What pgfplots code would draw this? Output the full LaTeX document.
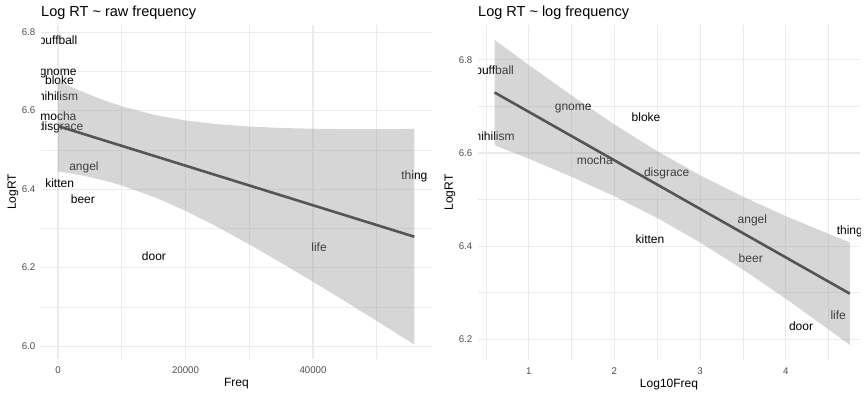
\documentclass[border=0pt]{standalone}
\usepackage{fontspec}
\setmainfont{Liberation Sans}
\usepackage{pgfplots}
\pgfplotsset{compat=1.18}
\usepackage{pgfplotstable}

\definecolor{grey92}{HTML}{EBEBEB}
\definecolor{grey30}{HTML}{4D4D4D}
\definecolor{fitline}{HTML}{555555}
\definecolor{bandfill}{HTML}{999999}

% word, raw frequency, log10 frequency, log reaction time
\pgfplotstableread{
word freq logfreq logrt
puffball 4 0.602 6.776
nihilism 4 0.602 6.636
gnome 33 1.519 6.695
mocha 59 1.771 6.585
bloke 234 2.369 6.677
kitten 260 2.415 6.414
disgrace 407 2.610 6.557
beer 3900 3.591 6.374
angel 4070 3.610 6.455
door 15050 4.178 6.228
life 40950 4.612 6.252
thing 55900 4.747 6.432
}\words

\pgfplotsset{
  ggpanel/.style={
    scale only axis,
    axis line style={draw=none},
    major tick length=0pt, minor tick length=0pt,
    grid=both,
    major grid style={draw=grey92, line width=1.1pt},
    minor grid style={draw=grey92, line width=0.55pt},
    tick label style={font=\fontsize{9.7}{11}\selectfont, text=grey30},
    /pgf/number format/assume math mode=true,
    scaled x ticks=false, scaled y ticks=false,
    xticklabel style={anchor=north, inner sep=0pt, yshift=-8pt},
    yticklabel style={anchor=east, inner sep=0pt, xshift=-5.5pt},
    xlabel style={at={(axis description cs:0.5,0)}, anchor=north, inner sep=0pt, yshift=-19pt, font=\fontsize{12}{14}\selectfont},
    ylabel style={at={([xshift=-28pt]axis description cs:0,0.5)}, anchor=center, inner sep=0pt, font=\fontsize{12}{14}\selectfont},
    title style={at={(axis description cs:0,1)}, anchor=base west, inner sep=0pt, yshift=2.5pt, font=\fontsize{14.5}{16}\selectfont},
    clip marker paths=true,
  },
  wordlabels/.style={
    draw=none, mark=none,
    nodes near coords, point meta=explicit symbolic,
    nodes near coords align={center},
    every node near coord/.append style={anchor=center, inner sep=0pt, text=black, font=\fontsize{12}{14}\selectfont},
  },
  band/.style={draw=none, fill=bandfill, fill opacity=0.4},
  fit/.style={draw=fitline, line width=2.6pt, mark=none},
}

\begin{document}
\begin{tikzpicture}
\useasboundingbox (0,0) rectangle (864pt,394pt);

% raw frequency panel
\begin{axis}[ggpanel,
  at={(41pt,35pt)}, anchor=south west,
  width=391pt, height=334pt,
  xmin=-2667, xmax=58667, ymin=5.967, ymax=6.818,
  xtick={0,20000,40000}, xticklabels={0,20000,40000},
  minor xtick={10000,30000,50000},
  ytick={6.0,6.2,6.4,6.6,6.8}, yticklabels={6.0,6.2,6.4,6.6,6.8},
  minor ytick={6.1,6.3,6.5,6.7},
  title={Log RT \textasciitilde\ raw frequency},
  xlabel={Freq}, ylabel={LogRT},
]
\addplot[wordlabels] table[x=freq, y=logrt, meta=word] {\words};
\addplot[band] coordinates {
  (4,6.676) (2500,6.6573) (5000,6.6401) (7500,6.6247) (10000,6.6110)
  (15000,6.5894) (20000,6.5747) (25000,6.5652) (30000,6.5593)
  (35000,6.5557) (40000,6.5537) (45000,6.5528) (50000,6.5527) (55900,6.5532)
  (55900,6.0038) (50000,6.0639) (45000,6.1142) (40000,6.1637)
  (35000,6.2121) (30000,6.2591) (25000,6.3036) (20000,6.3445)
  (15000,6.3802) (10000,6.4092) (7500,6.4207) (5000,6.4305) (2500,6.4385) (4,6.445)
} -- cycle;
\addplot[fit] coordinates {(4,6.5605) (55900,6.2785)};
\end{axis}

% log frequency panel
\begin{axis}[ggpanel,
  at={(478pt,34pt)}, anchor=south west,
  width=382pt, height=335pt,
  xmin=0.408, xmax=4.866, ymin=6.1555, ymax=6.875,
  xtick={1,2,3,4}, xticklabels={1,2,3,4},
  minor xtick={0.5,1.5,2.5,3.5,4.5},
  ytick={6.2,6.4,6.6,6.8}, yticklabels={6.2,6.4,6.6,6.8},
  minor ytick={6.3,6.5,6.7},
  title={Log RT \textasciitilde\ log frequency},
  xlabel={Log10Freq}, ylabel={LogRT},
]
\addplot[wordlabels] table[x=logfreq, y=logrt, meta=word] {\words};
\addplot[band] coordinates {
  (0.602,6.843) (1.0,6.7892) (1.5,6.7237) (2.0,6.6615) (2.5,6.6040)
  (3.0,6.5523) (3.5,6.5063) (4.0,6.4646) (4.5,6.4263) (4.747,6.4081)
  (4.747,6.1879) (4.5,6.2211) (4.0,6.2870) (3.5,6.3497) (3.0,6.4079)
  (2.5,6.4604) (2.0,6.5071) (1.5,6.5491) (1.0,6.5878) (0.602,6.617)
} -- cycle;
\addplot[fit] coordinates {(0.602,6.730) (4.747,6.298)};
\end{axis}
\end{tikzpicture}
\end{document}
